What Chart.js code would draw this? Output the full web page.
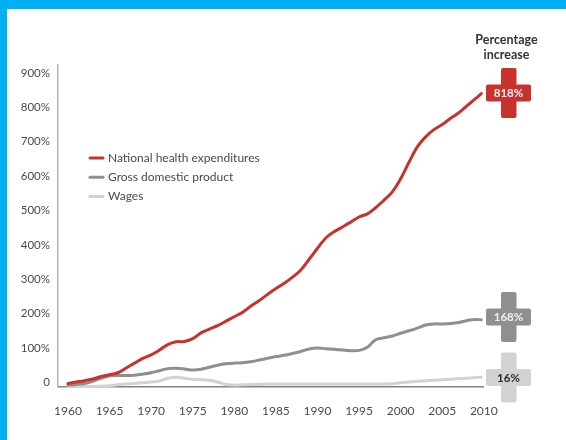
<!DOCTYPE html>
<html>
<head>
<meta charset="utf-8">
<style>
    html, body { margin: 0; padding: 0; background: #fff; overflow: hidden; }
    #frameTop { position: absolute; left: 0; top: 0; width: 566px; height: 9px; background: #00b0f0; }
    #frameLeft { position: absolute; left: 0; top: 0; width: 7px; height: 440px; background: #00b0f0; }
    canvas { position: absolute; left: 0; top: 0; }
</style>
<script src="https://cdn.jsdelivr.net/npm/chart.js@4/dist/chart.umd.min.js"></script>
</head>
<body>
<div id="frameTop"></div>
<div id="frameLeft"></div>
<canvas id="chart" width="566" height="440"></canvas>
<script>
// the drawn lines stop a little short of the 2010 tick
let years = [1960,1961,1962,1963,1964,1965,1966,1967,1968,1969,
    1970,1971,1972,1973,1974,1975,1976,1977,1978,1979,
    1980,1981,1982,1983,1984,1985,1986,1987,1988,1989,
    1990,1991,1992,1993,1994,1995,1996,1997,1998,1999,
    2000,2001,2002,2003,2004,2005,2006,2007,2008,2009,2009.7];

let healthValues = [-3,1,5,10,17,22,28,42,56,70,
    80,94,110,118,119,127,144,155,165,178,
    191,204,222,238,256,273,288,306,327,358,
    390,420,438,452,466,481,490,508,530,554,
    592,640,685,714,735,750,768,784,805,825,840];

let gdpValues = [-8,-6,-3,3,12,19,20,20,21,24,
    28,34,40,41,39,36,38,44,50,54,
    56,57,60,65,70,75,79,84,90,97,
    100,98,96,94,92,93,102,124,130,135,
    143,150,158,167,170,170,171,174,180,183,182];

let wageValues = [-12,-12,-12,-12,-11,-10,-7,-5,-3,-1,
    1,4,12,15,12,9,8,6,1,-6,
    -8,-7,-6,-6,-5,-5,-5,-5,-5,-5,
    -5,-5,-5,-5,-5,-5,-5,-5,-5,-4,
    -1,1,3,5,6,8,9,11,12,14,15];

let xTicks = [1960,1965,1970,1975,1980,1985,1990,1995,2000,2005,2010];
let yTicks = [0,100,200,300,400,500,600,700,800,900];

let seriesNames = ["National health expenditures", "Gross domestic product", "Wages"];
let seriesColors = ["#c8322d", "#8f8f8f", "#d2d2d2"];
let increaseLabels = ["818%", "168%", "16%"];
let increaseTextColors = ["#f4f4f4", "#f0f0f0", "#2b2b2b"];
let crossCentersY = [93, 317, 377.5];

let textColor = "#4a4a4a";
let fontName = "Lato, 'Open Sans', sans-serif";

function toPoints(values) {
    return values.map(function (v, i) {
        return { x: years[i], y: v };
    });
}

function roundBox(ctx, x, y, w, h, r) {
    ctx.beginPath();
    ctx.roundRect(x, y, w, h, r);
    ctx.fill();
}

// legend and the plus badges on the right sit outside what chart.js lays out itself
let extras = {
    id: "extras",
    afterDatasetsDraw: function (chart) {
        let ctx = chart.ctx;
        ctx.save();

        ctx.font = "12px " + fontName;
        ctx.textBaseline = "middle";
        ctx.textAlign = "left";
        chart.data.datasets.forEach(function (ds, i) {
            let y = 158 + i * 19.2;
            ctx.strokeStyle = ds.borderColor;
            ctx.lineWidth = 3;
            ctx.lineCap = "round";
            ctx.beginPath();
            ctx.moveTo(90, y);
            ctx.lineTo(103, y);
            ctx.stroke();
            ctx.fillStyle = textColor;
            ctx.fillText(ds.label, 108, y);
        });

        ctx.textAlign = "center";
        ctx.fillStyle = "#333";
        ctx.font = "bold 12.5px " + fontName;
        ctx.fillText("Percentage", 506.5, 40);
        ctx.fillText("increase", 506.5, 55);

        crossCentersY.forEach(function (cy, i) {
            ctx.fillStyle = seriesColors[i];
            roundBox(ctx, 501, cy - 25, 15.5, 50, 2);
            roundBox(ctx, 486, cy - 8.5, 45, 17, 2);
            ctx.fillStyle = increaseTextColors[i];
            ctx.font = "bold 11.5px " + fontName;
            ctx.fillText(increaseLabels[i], 508.5, cy + 0.5);
        });

        ctx.restore();
    }
};

new Chart(document.getElementById("chart"), {
    type: "line",
    data: {
        datasets: [{
            label: seriesNames[0],
            data: toPoints(healthValues),
            borderColor: seriesColors[0],
            order: 1
        }, {
            label: seriesNames[1],
            data: toPoints(gdpValues),
            borderColor: seriesColors[1],
            order: 2
        }, {
            label: seriesNames[2],
            data: toPoints(wageValues),
            borderColor: seriesColors[2],
            order: 3
        }]
    },
    options: {
        responsive: false,
        animation: false,
        devicePixelRatio: 1,
        clip: false,
        layout: { padding: { left: 0, right: 83, top: 65, bottom: 0 } },
        elements: {
            point: { radius: 0 },
            line: { borderWidth: 3, tension: 0.35, fill: false, borderCapStyle: "round" }
        },
        plugins: {
            legend: { display: false },
            tooltip: { enabled: false }
        },
        scales: {
            x: {
                type: "linear",
                min: 1958.8,
                max: 2009.9,
                afterBuildTicks: function (axis) {
                    axis.ticks = xTicks.map(function (v) { return { value: v }; });
                },
                afterFit: function (axis) { axis.height = 53.5; },
                grid: { display: false, drawTicks: false },
                border: { color: "#808080", width: 1.5 },
                ticks: {
                    color: textColor,
                    padding: 17,
                    maxRotation: 0,
                    autoSkip: false,
                    font: { family: fontName, size: 12 },
                    callback: function (v) { return String(v); }
                }
            },
            y: {
                type: "linear",
                min: -12,
                max: 923,
                afterBuildTicks: function (axis) {
                    axis.ticks = yTicks.map(function (v) { return { value: v }; });
                },
                afterFit: function (axis) { axis.width = 58; },
                grid: { display: false, drawTicks: false },
                border: { color: "#b5b5b5", width: 1.5 },
                ticks: {
                    color: textColor,
                    padding: 8,
                    autoSkip: false,
                    font: { family: fontName, size: 11.5 },
                    callback: function (v) { return v === 0 ? "0" : v + "%"; }
                }
            }
        }
    },
    plugins: [extras]
});
</script>
</body>
</html>
